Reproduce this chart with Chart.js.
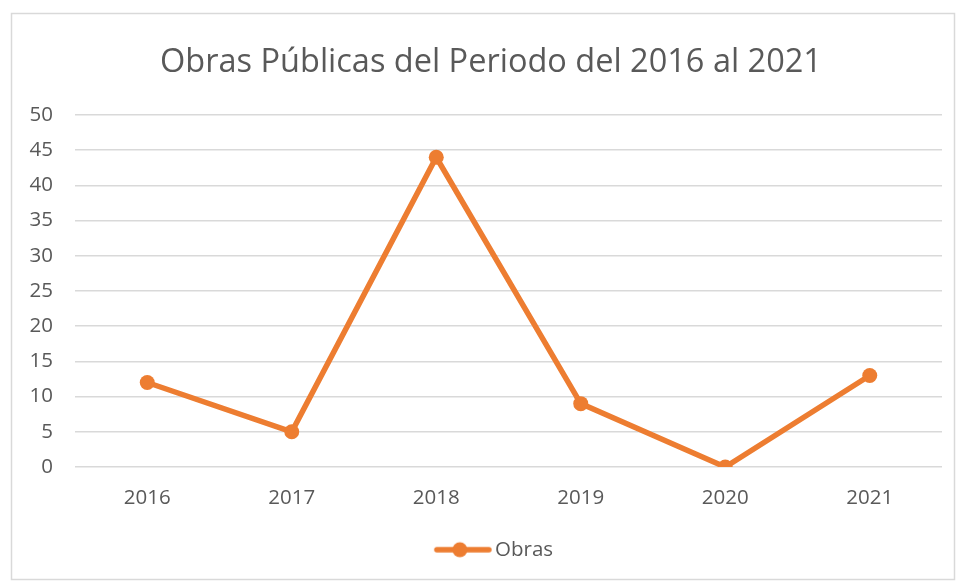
<!DOCTYPE html>
<html><head><meta charset="utf-8">
<style>html,body{margin:0;padding:0;background:#fff}#wrap{width:956px;height:582px;position:relative}</style>
<script src="https://cdn.jsdelivr.net/npm/chart.js@4/dist/chart.umd.min.js"></script>
</head><body>
<div id="wrap"><canvas id="c" width="956" height="582"></canvas></div>
<script>
const categories = ['2016', '2017', '2018', '2019', '2020', '2021'];
const obras = [12, 5, 44, 9, 0, 13];
const seriesName = 'Obras';
const chartTitle = 'Obras Públicas del Periodo del 2016 al 2021';
const yMin = 0, yMax = 50, yStep = 5;

const ORANGE = '#ED7D31';
const TEXT = '#595959';
const GRID = '#d9d9d9';
const FONT = "'Open Sans', 'Noto Sans', sans-serif";

// legend marker: line with a dot (drawn offset inside a wider image)
function legendImage() {
  const w = 120, h = 18;
  const c = document.createElement('canvas');
  c.width = w; c.height = h;
  const x = c.getContext('2d');
  x.strokeStyle = ORANGE; x.lineWidth = 5.5; x.lineCap = 'round';
  x.beginPath(); x.moveTo(40, h / 2); x.lineTo(92, h / 2); x.stroke();
  x.fillStyle = ORANGE; x.beginPath(); x.arc(63, h / 2, 7.5, 0, Math.PI * 2); x.fill();
  return c;
}

const borderPlugin = {
  id: 'outerBorder',
  afterLayout(chart) {
    // widen the y-axis label clip area so labels are not cut
    if (chart.scales.y) chart.scales.y.left = 0;
  },
  beforeDraw(chart) {
    const ctx = chart.ctx;
    ctx.save();
    ctx.fillStyle = '#fff';
    ctx.fillRect(0, 0, chart.width, chart.height);
    ctx.strokeStyle = GRID; ctx.lineWidth = 1.5;
    ctx.strokeRect(11.5, 13.5, 943, 566);
    ctx.restore();
  }
};

const img = legendImage();
new Chart(document.getElementById('c'), {
  type: 'line',
  data: {
    labels: categories,
    datasets: [{
      label: seriesName,
      data: obras,
      borderColor: ORANGE,
      backgroundColor: ORANGE,
      borderWidth: 5.5,
      pointRadius: 7.5,
      pointHoverRadius: 7.5,
      pointBackgroundColor: ORANGE,
      pointBorderWidth: 0,
      tension: 0
    }]
  },
  options: {
    responsive: false,
    animation: false,
    layout: { padding: { left: 40, right: 14, top: 0, bottom: 12 } },
    plugins: {
      title: {
        display: true, text: chartTitle, color: TEXT,
        font: { family: FONT, size: 32.5, weight: 'normal' },
        padding: { top: 43, bottom: 33 }
      },
      legend: {
        display: true, position: 'bottom',
        labels: {
          color: TEXT, font: { family: FONT, size: 20.5 },
          usePointStyle: true, pointStyleWidth: 56, padding: 10,
          generateLabels: (chart) => [{
            text: seriesName, pointStyle: img, fillStyle: ORANGE, strokeStyle: ORANGE,
            lineWidth: 0, hidden: false, datasetIndex: 0, fontColor: TEXT
          }]
        }
      },
      tooltip: { enabled: false }
    },
    scales: {
      x: {
        offset: true,
        grid: { display: false, drawTicks: false },
        border: { display: false },
        ticks: { color: TEXT, font: { family: FONT, size: 20.5 }, padding: 19 },
        afterFit: (s) => { s.height = 62.5; }
      },
      y: {
        min: yMin, max: yMax,
        grid: { color: GRID, lineWidth: 1.5, drawTicks: false },
        border: { display: false },
        ticks: { stepSize: yStep, color: TEXT, font: { family: FONT, size: 20.5 }, padding: 22 },
        afterFit: (s) => { s.width = 35; }
      }
    }
  },
  plugins: [borderPlugin]
});
</script>
</body></html>
